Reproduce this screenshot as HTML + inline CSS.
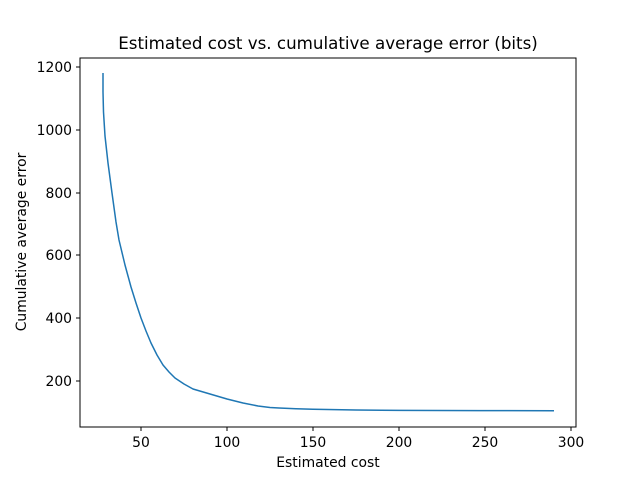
<!DOCTYPE html>
<html><head><meta charset="utf-8"><style>
html,body{margin:0;padding:0;background:#fff}
text{font-family:"DejaVu Sans","Liberation Sans",sans-serif;fill:#000}
</style></head><body>
<svg width="640" height="480" xmlns="http://www.w3.org/2000/svg">
<rect width="640" height="480" fill="#fff"/>
<polyline fill="none" stroke="#1f77b4" stroke-width="1.5" stroke-linejoin="round" points="103,73 103,92 103.5,112 105,136 108,163 112,193 116,222 119,240 125,265 131,287 136,303 141,318 146,331 151,343 157,355 163,365 169,372 175,378 184,384 193,389 210,394 227,399 243,403 258,406 270,407.5 279,408 296,408.8 313,409.3 356,410 399,410.4 480,410.6 554,410.8"/>
<rect x="80" y="58" width="496" height="369" fill="none" stroke="#000" stroke-width="1"/>
<g stroke="#000" stroke-width="1">
<line x1="141" y1="427" x2="141" y2="431"/>
<line x1="227" y1="427" x2="227" y2="431"/>
<line x1="313" y1="427" x2="313" y2="431"/>
<line x1="399" y1="427" x2="399" y2="431"/>
<line x1="485" y1="427" x2="485" y2="431"/>
<line x1="571" y1="427" x2="571" y2="431"/>
<line x1="76" y1="381" x2="80" y2="381"/>
<line x1="76" y1="318" x2="80" y2="318"/>
<line x1="76" y1="255" x2="80" y2="255"/>
<line x1="76" y1="193" x2="80" y2="193"/>
<line x1="76" y1="130" x2="80" y2="130"/>
<line x1="76" y1="67" x2="80" y2="67"/>
</g>
<g font-size="13.9" text-anchor="middle">
<text x="141" y="447">50</text>
<text x="227" y="447">100</text>
<text x="313" y="447">150</text>
<text x="399" y="447">200</text>
<text x="485" y="447">250</text>
<text x="571" y="447">300</text>
</g>
<g font-size="13.9" text-anchor="end">
<text x="72" y="386">200</text>
<text x="72" y="323">400</text>
<text x="72" y="260">600</text>
<text x="72" y="198">800</text>
<text x="72" y="135">1000</text>
<text x="72" y="72">1200</text>
</g>
<text x="328" y="467" font-size="13.9" text-anchor="middle">Estimated cost</text>
<text x="26" y="242" font-size="13.9" text-anchor="middle" transform="rotate(-90 26 242)">Cumulative average error</text>
<text x="328" y="49" font-size="16.7" text-anchor="middle">Estimated cost vs. cumulative average error (bits)</text>
</svg>
</body></html>
